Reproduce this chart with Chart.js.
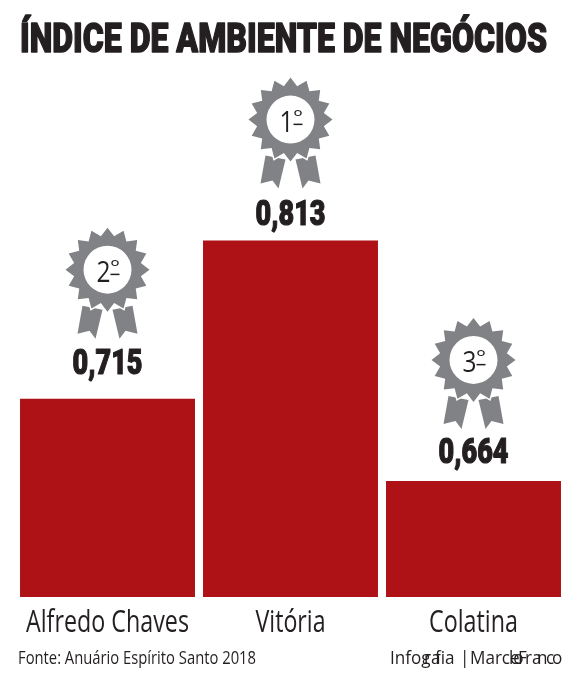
<!DOCTYPE html>
<html>
<head>
<meta charset="utf-8">
<style>
  html, body { margin: 0; padding: 0; background: #fff; }
  #wrap { position: relative; width: 580px; height: 696px; }
</style>
<script src="https://cdn.jsdelivr.net/npm/chart.js@4"></script>
</head>
<body>
<div id="wrap"><canvas id="grafico"></canvas></div>
<script>
const categorias = ['Alfredo Chaves', 'Vitória', 'Colatina'];
const indices = [0.715, 0.813, 0.664];
const posicoes = ['2', '1', '3'];
const titulo = 'ÍNDICE DE AMBIENTE DE NEGÓCIOS';
const fonte = 'Fonte: Anuário Espírito Santo 2018';

const preto = '#231f20';
const sans = '"Open Sans", sans-serif';
const pesada = 'Roboto, sans-serif';

// offsets finos de cada coluna
const recuoMedalha = [129, 121, 121];
const recuoValor = [25, 16, 18];
const larguraCategoria = [163, 70, 89];

// texto esticado para caber numa largura fixa
const textoAjustado = (ctx, txt, x, y, largura, font, align = 'left', grossura = 0) => {
  ctx.save();
  ctx.font = font;
  ctx.fillStyle = preto;
  ctx.strokeStyle = preto;
  ctx.textAlign = align;
  ctx.textBaseline = 'alphabetic';
  const w = ctx.measureText(txt).width;
  ctx.translate(x, y);
  ctx.scale(largura / w, 1);
  if (grossura) { ctx.lineWidth = grossura; ctx.lineJoin = 'round'; ctx.strokeText(txt, 0, 0); }
  ctx.fillText(txt, 0, 0);
  ctx.restore();
};

const desenhaMedalha = (ctx, cx, cy, pos) => {
  const pontas = 16;
  ctx.save();
  ctx.fillStyle = '#808285';

  // fitas
  [-1, 1].forEach(s => {
    ctx.beginPath();
    ctx.moveTo(cx + s * 5, cy + 40);
    ctx.lineTo(cx + s * 25, cy + 36);
    ctx.lineTo(cx + s * 30, cy + 64);
    ctx.lineTo(cx + s * 18, cy + 61);
    ctx.lineTo(cx + s * 12, cy + 69);
    ctx.closePath();
    ctx.fill();
  });

  // roseta, com contorno branco por cima das fitas
  ctx.strokeStyle = '#fff';
  ctx.lineWidth = 3;
  ctx.lineJoin = 'miter';
  ctx.beginPath();
  for (let i = 0; i < pontas * 2; i++) {
    const r = i % 2 === 0 ? 42 : 34;
    const a = -Math.PI / 2 + i * Math.PI / pontas;
    ctx.lineTo(cx + r * Math.cos(a), cy + r * Math.sin(a));
  }
  ctx.closePath();
  ctx.stroke();
  ctx.fill();

  ctx.fillStyle = '#fff';
  ctx.beginPath();
  ctx.arc(cx, cy, 24, 0, Math.PI * 2);
  ctx.fill();

  ctx.fillStyle = preto;
  textoAjustado(ctx, pos, cx - 11, cy + 12, 14, '30px ' + sans);
  textoAjustado(ctx, 'º', cx + 3, cy + 3, 9, '19px ' + sans);
  ctx.fillRect(cx + 3, cy + 4, 9, 1.5);
  ctx.restore();
};

// credito tem as letras encavaladas no original
const desenhaCredito = (ctx) => {
  const pedacos = [
    ['Infog', 390], ['ra', 424], ['fia', 435], ['|', 460],
    ['Marce', 470], ['lo', 509], ['F', 518], ['ra', 525], ['n', 537], ['c', 546], ['o', 552]
  ];
  ctx.save();
  ctx.font = '19px ' + sans;
  ctx.fillStyle = preto;
  ctx.textBaseline = 'alphabetic';
  pedacos.forEach(([txt, x]) => {
    ctx.save();
    ctx.translate(x, 664);
    ctx.scale(0.9, 1);
    ctx.fillText(txt, 0, 0);
    ctx.restore();
  });
  ctx.restore();
};

const rotulosPlugin = {
  id: 'rotulos',
  afterDatasetsDraw(chart) {
    const ctx = chart.ctx;
    const x = chart.scales.x;
    textoAjustado(ctx, titulo, 20, 52, 527, '900 40px ' + pesada, 'left', 1.4);

    chart.getDatasetMeta(0).data.forEach((bar, i) => {
      const rotulo = indices[i].toFixed(3).replace('.', ',');
      textoAjustado(ctx, rotulo, bar.x, bar.y - recuoValor[i], 70, '900 35px ' + pesada, 'center', 1.2);
      desenhaMedalha(ctx, bar.x, bar.y - recuoMedalha[i], posicoes[i]);
      textoAjustado(ctx, categorias[i], x.getPixelForTick(i), 632, larguraCategoria[i], '31px ' + sans, 'center');
    });

    textoAjustado(ctx, fonte, 18, 664, 238, '18px ' + sans);
    desenhaCredito(ctx);
  }
};

new Chart(document.getElementById('grafico'), {
  type: 'bar',
  data: {
    labels: categorias,
    datasets: [{
      data: indices,
      backgroundColor: '#ae1116',
      barPercentage: 0.956,
      categoryPercentage: 1
    }]
  },
  options: {
    responsive: true,
    maintainAspectRatio: false,
    animation: false,
    layout: { padding: { left: 16, right: 15, top: 60, bottom: 99 } },
    plugins: {
      legend: { display: false },
      tooltip: { enabled: false }
    },
    scales: {
      x: {
        grid: { display: false, drawTicks: false },
        border: { display: false },
        ticks: { display: false }
      },
      y: {
        display: false,
        min: 0.592,
        max: 0.925
      }
    }
  },
  plugins: [rotulosPlugin]
});
</script>
</body>
</html>
